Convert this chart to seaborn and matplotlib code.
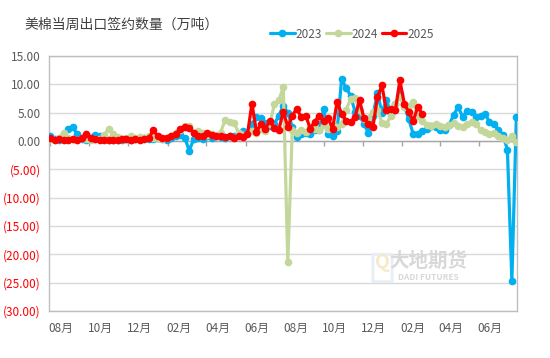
import pandas as pd
import seaborn as sns
import matplotlib.pyplot as plt
import matplotlib.dates as mdates
import matplotlib.patches as mpatches
import numpy as np

# weekly contract volumes (10k tonnes)
y2023 = [0.9, 0.3, 0.2, 0.5, 2.2, 2.5, 1.2, 0.4, 0.2, 0.6,
         1.1, 0.8, 0.3, 0.2, 0.1, 0.2, 0.1, 0.3, 0.2, 0.4,
         0.3, 0.5, 0.4, 0.3, 0.6, 0.3, 0.2, 0.5, 0.8, 1.0,
         0.6, -1.7, 0.3, 0.6, 0.4, 0.8, 0.5, 0.9, 0.7, 0.6,
         0.9, 0.8, 1.2, 1.8, 1.4, 3.0, 4.2, 4.0, 3.2, 2.6,
         3.0, 4.5, 6.2, 5.0, 2.5, 0.7, 1.3, 1.5, 1.2, 1.9,
         2.0, 5.6, 1.3, 0.9, 1.8, 10.9, 9.4, 8.0, 5.2, 4.5,
         3.0, 1.4, 4.5, 8.5, 5.0, 7.3, 4.8, 6.5, 8.3, 6.3,
         3.8, 1.2, 1.2, 1.7, 2.2, 2.7, 2.4, 1.9, 2.0, 2.8,
         4.6, 6.0, 4.3, 5.3, 5.2, 4.3, 4.4, 4.8, 3.4, 3.0,
         2.0, 1.0, -1.5, -24.7, 4.3]
y2024 = [0.3, 0.2, 0.6, 1.5, 0.5, 0.3, 0.2, 0.5, 0.3, 0.2,
         0.4, 0.3, 1.0, 2.2, 1.2, 0.7, 0.4, 0.6, 0.9, 0.5,
         0.7, 0.6, 0.9, 0.6, 0.5, 0.3, 0.6, 0.9, 1.5, 2.0,
         2.7, 2.6, 1.5, 1.8, 1.4, 1.0, 1.2, 0.9, 1.5, 3.7,
         3.4, 3.2, 1.5, 1.0, 1.3, 1.8, 1.5, 2.2, 1.8, 3.0,
         6.5, 7.2, 9.5, -21.4, 2.0, 1.5, 2.0, 1.6, 2.5, 2.2,
         1.9, 2.8, 2.2, 2.8, 2.5, 3.0, 5.5, 7.4, 7.6, 5.5,
         3.8, 4.0, 5.2, 5.5, 3.2, 3.0, 4.5, 6.5, 7.8, 6.0,
         6.2, 6.8, 4.5, 3.5, 2.8, 2.6, 3.0, 2.6, 2.4, 2.8,
         3.2, 2.6, 2.4, 3.0, 3.4, 3.0, 2.0, 1.6, 1.2, 1.4,
         0.8, 0.6, 0.2, 0.9, -0.2]
y2025 = [0.5, 0.2, 0.3, 0.1, 0.2, 0.3, 0.1, 0.5, 1.2, 0.6,
         0.3, 0.1, 0.2, 0.1, 0.2, 0.1, 0.3, 0.4, 0.2, 0.3,
         0.1, 0.3, 0.5, 1.9, 0.8, 0.6, 0.5, 0.9, 1.2, 2.2,
         2.4, 2.3, 1.4, 0.9, 0.8, 1.5, 1.0, 0.8, 0.9, 0.7,
         0.8, 0.5, 0.9, 0.7, 1.2, 6.6, 1.6, 3.0, 2.2, 3.6,
         2.3, 2.0, 5.2, 2.5, 4.5, 5.7, 4.2, 4.5, 2.2, 3.4,
         4.5, 3.6, 4.0, 2.2, 6.9, 4.8, 3.6, 3.4, 4.2, 7.2,
         4.0, 3.0, 2.5, 7.7, 9.8, 5.4, 5.7, 5.4, 10.7, 6.6,
         5.1, 3.6, 6.0, 4.8]

weeks = pd.date_range('2023-08-01', periods=len(y2023), freq='7D')
series = {'2023': y2023, '2024': y2024, '2025': y2025}
colors = {'2023': '#00B0F0', '2024': '#C4D79B', '2025': '#FF0000'}

yticks = [15, 10, 5, 0, -5, -10, -15, -20, -25, -30]
ytick_labels = ['15.00', '10.00', '5.00', '0.00', '(5.00)', '(10.00)',
                '(15.00)', '(20.00)', '(25.00)', '(30.00)']

sns.set_style('white')
plt.rcParams['font.family'] = ['Noto Sans CJK SC', 'DejaVu Sans']

fig = plt.figure(figsize=(5.5, 3.58), dpi=100)
ax = fig.add_axes([49 / 550, 1 - 311 / 358, 468 / 550, 255 / 358])

for name, vals in series.items():
    df = pd.DataFrame({'date': weeks[:len(vals)], 'val': vals})
    sns.lineplot(data=df, x='date', y='val', ax=ax, color=colors[name],
                 linewidth=2.3, marker='o', markersize=5.5,
                 markeredgewidth=0, label=name, zorder=3)

ax.set_xlim(pd.Timestamp('2023-07-30'), pd.Timestamp('2025-07-30'))
ax.set_ylim(-30, 15)
ax.set_xlabel('')
ax.set_ylabel('')

# horizontal grid
ax.set_yticks(yticks)
ax.set_yticklabels(ytick_labels)
for lab, v in zip(ax.get_yticklabels(), yticks):
    lab.set_color('#FF0000' if v < 0 else '#595959')
ax.yaxis.grid(True, color='#D9D9D9', linewidth=1.0)
ax.set_axisbelow(True)
ax.tick_params(axis='y', length=0, pad=6, labelsize=8.5)

# month ticks: marks on the zero line, labels starting at each mark
month_starts = pd.date_range('2023-08-01', '2025-06-01', freq='2MS')
ax.axhline(0, color='#A6A6A6', linewidth=1.0, zorder=2)
ax.vlines(month_starts, -0.8, 0, color='#A6A6A6', linewidth=1.0, zorder=2)
ax.set_xticks(month_starts + pd.Timedelta(days=17))
ax.xaxis.set_major_formatter(mdates.DateFormatter('%m月'))
ax.tick_params(axis='x', length=0, pad=8, labelsize=8.5, labelcolor='#595959')

for sp in ax.spines.values():
    sp.set_color('#BFBFBF')
    sp.set_linewidth(1.0)

handles, labels = ax.get_legend_handles_labels()
ax.get_legend().remove()
fig.legend(handles, labels, loc='center', bbox_to_anchor=(352 / 550, 1 - 34 / 358),
           ncol=3, frameon=False, fontsize=8.5, handlelength=2.1,
           handletextpad=0.1, columnspacing=0.3, labelcolor='#595959')

fig.text(24 / 550, 1 - 25 / 358, '美棉当周出口签约数量（万吨）', fontsize=10,
         color='#404040', va='center', ha='left')

# faint watermark with logo
logo = mpatches.FancyBboxPatch((374 / 550, 1 - 281 / 358), 17 / 550, 26 / 358,
                               boxstyle='round,pad=0.002', transform=fig.transFigure,
                               facecolor='none', edgecolor='#E6EEF6', linewidth=2)
fig.patches.append(logo)
fig.text(382 / 550, 1 - 262 / 358, 'Q', fontsize=14, color='#F3EBC8',
         ha='center', va='center', fontweight='bold')
fig.text(428 / 550, 1 - 261 / 358, '大地期货', fontsize=14, color='#D8D8D8',
         ha='center', va='center', fontweight='bold')
fig.text(428 / 550, 1 - 277 / 358, 'DADI FUTURES', fontsize=6, color='#D8D8D8',
         ha='center', va='center', fontweight='bold')

fig.savefig('out.png', dpi=100)
